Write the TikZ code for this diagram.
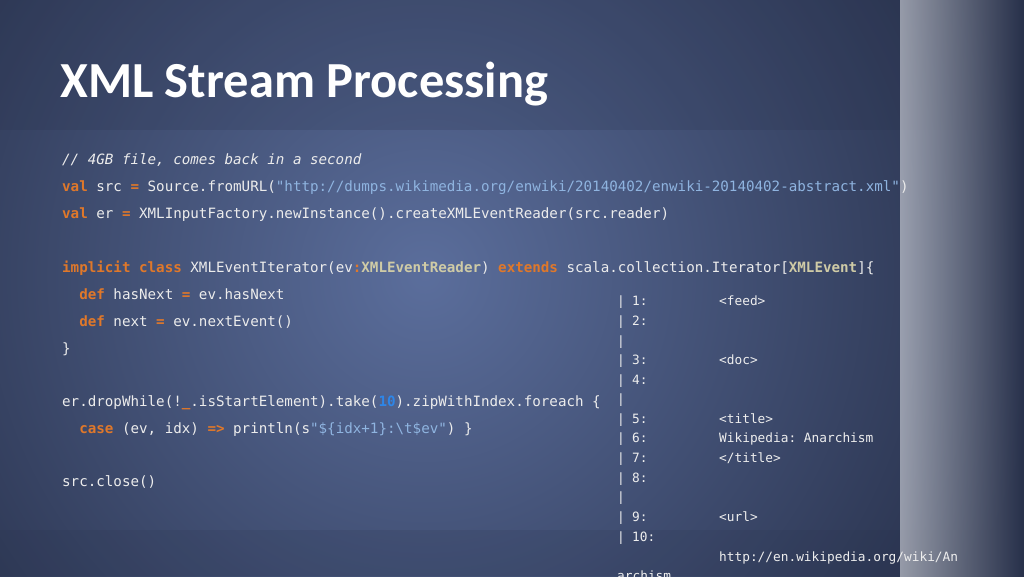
\documentclass[tikz,border=0pt]{standalone}
\usepackage{fontspec}
\setmainfont{Carlito}
\setmonofont{DejaVu Sans Mono}
\definecolor{kw}{HTML}{E0782A}
\definecolor{str}{HTML}{8FB4E0}
\definecolor{typ}{HTML}{CFCBA6}
\definecolor{num}{HTML}{2E86E8}
\definecolor{txt}{HTML}{ECECEC}
\definecolor{bgc}{HTML}{5B6E9C}
\definecolor{bgo}{HTML}{27304A}
\newcommand{\kw}[1]{\textcolor{kw}{\bfseries #1}}
\newcommand{\st}[1]{\textcolor{str}{#1}}
\newcommand{\ty}[1]{\textcolor{typ}{\bfseries #1}}
\begin{document}
\begin{tikzpicture}[x=1pt,y=-1pt,
  code/.style={anchor=base west,inner sep=0pt,text=txt,font=\ttfamily\fontsize{14.2}{15}\selectfont},
  outtxt/.style={anchor=base west,inner sep=0pt,text=txt!90,font=\ttfamily\fontsize{12.8}{13}\selectfont}]
\clip (0,0) rectangle (1024,576);
\useasboundingbox (0,0) rectangle (1024,576);
\shade[inner color=bgc,outer color=bgo] (-200,-350) rectangle (1050,900);
\fill[bgo,opacity=0.2] (0,0) rectangle (1024,130);
\fill[bgo,opacity=0.15] (0,530) rectangle (1024,576);
\shade[left color=bgo!0,right color=bgo,opacity=0.5] (900,0) rectangle (1024,576);
\node[anchor=base west,inner sep=0pt,text=white,font=\bfseries\fontsize{50.5}{55}\selectfont] (title) at (60,97) {XML Stream Processing};
\node[code] (l1) at (62,164) {\itshape // 4GB file, comes back in a second};
\node[code] (l2) at (62,191) {\kw{val} src \kw{=} Source.fromURL(\st{"http://dumps.wikimedia.org/enwiki/20140402/enwiki-20140402-abstract.xml"})};
\node[code] (l3) at (62,218) {\kw{val} er \kw{=} XMLInputFactory.newInstance().createXMLEventReader(src.reader)};
\node[code] (l4) at (62,272) {\kw{implicit} \kw{class} XMLEventIterator(ev\kw{:}\ty{XMLEventReader}) \kw{extends} scala.collection.Iterator[\ty{XMLEvent}]\{};
\node[code] (l5) at (62,299) {\ \ \kw{def} hasNext \kw{=} ev.hasNext};
\node[code] (l6) at (62,326) {\ \ \kw{def} next \kw{=} ev.nextEvent()};
\node[code] (l7) at (62,353) {\}};
\node[code] (l8) at (62,406) {er.dropWhile(!\kw{\_}.isStartElement).take(\textcolor{num}{\bfseries 10}).zipWithIndex.foreach \{};
\node[code] (l9) at (62,433) {\ \ \kw{case} (ev, idx) \kw{=>} println(s\st{"\$\{idx+1\}:\textbackslash t\$ev"}) \}};
\node[code] (l10) at (62,486) {src.close()};
\foreach \y/\n/\v [count=\i] in {305/1:/<feed>,325/2:/,345//,364/3:/<doc>,384/4:/,403//,423/5:/<title>,442/6:/Wikipedia: Anarchism,462/7:/{</title>},482/8:/,501//,521/9:/<url>,541/10:/}{
  \node[outtxt] (p\i) at (617,\y) {|};
  \node[outtxt] (n\i) at (632,\y) {\n};
  \node[outtxt] (v\i) at (719,\y) {\v};
}
\node[outtxt] (url) at (719,561) {http://en.wikipedia.org/wiki/An};
\node[outtxt] (an) at (617,580) {archism};
\end{tikzpicture}
\end{document}
